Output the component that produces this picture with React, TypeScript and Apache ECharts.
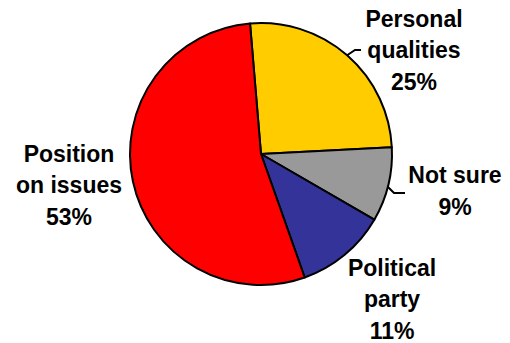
import React, { useEffect, useRef } from "react";
import * as echarts from "echarts";

const categories = ["Personal\nqualities", "Not sure", "Political\nparty", "Position\non issues"];
const values = [25, 9, 11, 53];
const colors = ["#FFCC00", "#999999", "#333399", "#FF0000"];

// label anchor positions (layout only)
const labelX = [414, 455, 392, 69];
const labelY = [50, 191, 299, 185];
// short leader tails (layout only)
const tails: (number[][] | null)[] = [
  [[346, 56], [355, 50], [361, 50]],
  [[387, 186], [394, 193], [405, 193]],
  null,
  null,
];

export default function App() {
  const ref = useRef<HTMLDivElement>(null);
  useEffect(() => {
    if (!ref.current) return;
    const chart = echarts.init(ref.current, null, { renderer: "svg" });
    chart.setOption({
      animation: false,
      backgroundColor: "#ffffff",
      series: [
        {
          type: "pie",
          center: [261, 154],
          radius: 131,
          startAngle: 94.8,
          clockwise: true,
          silent: true,
          data: categories.map((name, i) => ({
            name,
            value: values[i],
            itemStyle: { color: colors[i] },
            labelLine: { show: !!tails[i] },
          })),
          itemStyle: { borderColor: "#000", borderWidth: 2 },
          label: {
            show: true,
            position: "outside",
            formatter: "{b}\n{c}%",
            fontFamily: "Liberation Sans, Arial, sans-serif",
            fontWeight: "bold",
            fontSize: 23,
            lineHeight: 31.5,
            color: "#000",
            align: "center",
          },
          labelLine: {
            show: false,
            length: 4,
            length2: 6,
            lineStyle: { color: "#000", width: 2 },
          },
          labelLayout: (p: any) => {
            const r: any = {
              x: labelX[p.dataIndex],
              y: labelY[p.dataIndex],
              align: "center",
              verticalAlign: "middle",
            };
            if (tails[p.dataIndex]) r.labelLinePoints = tails[p.dataIndex];
            return r;
          },
        },
      ],
    });
    return () => chart.dispose();
  }, []);
  return (
    <div
      ref={ref}
      style={{ position: "fixed", left: 0, top: 0, width: 510, height: 343 }}
    />
  );
}
